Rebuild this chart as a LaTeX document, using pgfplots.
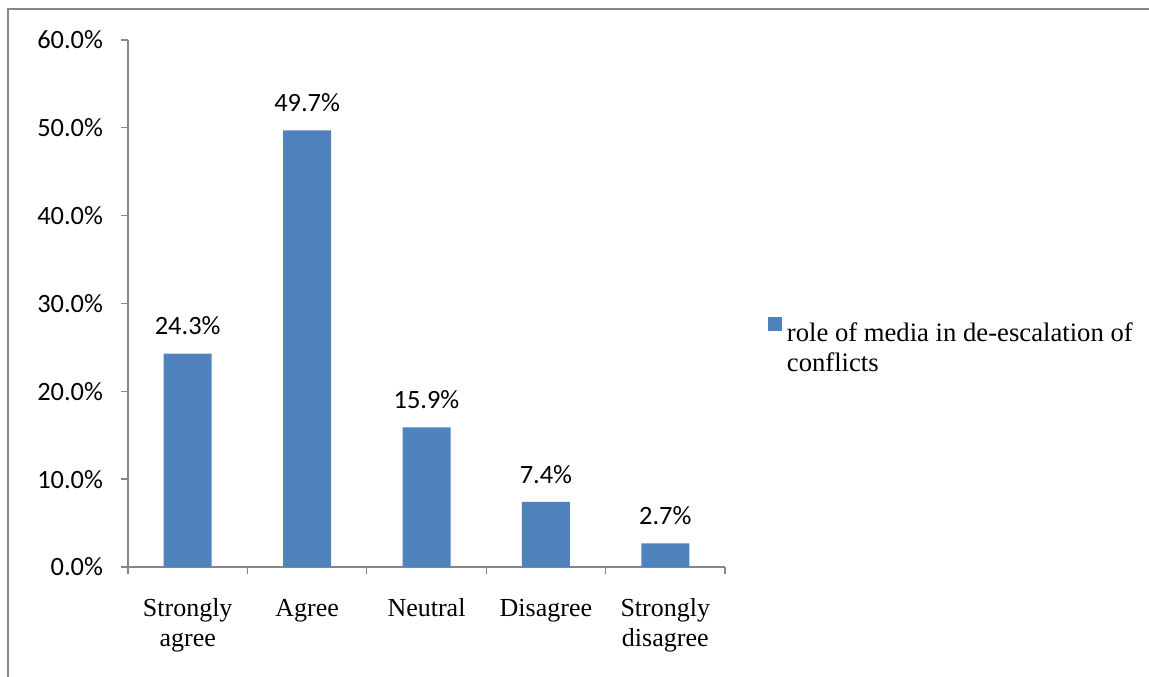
\documentclass[border=0pt]{standalone}
\usepackage{fontspec}
\setmainfont{Liberation Serif}
\newfontfamily\calibri{Carlito}
\usepackage{pgfplots}
\pgfplotsset{compat=1.18}
\definecolor{barblue}{RGB}{79,129,189}
\definecolor{axgray}{RGB}{134,134,134}
\begin{document}
\begin{tikzpicture}
\useasboundingbox (0,0) rectangle (861.75pt,507.75pt);
\draw[axgray, line width=1.2pt] (6pt,0pt) -- (6pt,501pt) -- (861.75pt,501pt);
\begin{axis}[
  at={(96pt,82.5pt)}, anchor=south west,
  scale only axis, width=447.75pt, height=395.25pt,
  xmin=0, xmax=5, ymin=0, ymax=60,
  axis x line*=bottom, axis y line*=left,
  axis line style={axgray, line width=1pt},
  tick align=outside,
  major tick length=5.25pt,
  tick style={axgray, line width=1pt},
  xtick={0,1,2,3,4,5},
  xticklabels={},
  extra x ticks={0.5,1.5,2.5,3.5,4.5},
  extra x tick labels={{\strut Strongly\\agree},{\strut Agree},{\strut Neutral},{\strut Disagree},{\strut Strongly\\disagree}},
  extra x tick style={major tick length=0pt, grid=none,
    tick label style={font=\fontsize{19.5}{22.5}\selectfont, align=center, anchor=north, yshift=-17.75pt}},
  ytick={0,10,20,30,40,50,60},
  yticklabel={\pgfmathprintnumber[fixed,fixed zerofill,precision=1]{\tick}\%},
  /pgf/number format/assume math mode=true,
  y tick label style={font=\calibri\fontsize{19.8}{22}\selectfont, xshift=-10pt},
  ybar, bar width=36pt,
  nodes near coords={\pgfmathprintnumber[fixed,fixed zerofill,precision=1]{\pgfplotspointmeta}\%},
  nodes near coords style={font=\calibri\fontsize{19.8}{22}\selectfont, anchor=south, yshift=10.5pt},
  legend style={draw=none, fill=none, at={(1.072,0.475)}, anchor=north west, inner sep=0pt,
    nodes={inner sep=1pt}, /tikz/every odd column/.append style={column sep=2.5pt}},
  legend image code/.code={\fill[barblue] (0pt,2pt) rectangle (10.5pt,12.5pt);},
]
\addplot[fill=barblue, draw=none] coordinates {(0.5,24.3) (1.5,49.7) (2.5,15.9) (3.5,7.4) (4.5,2.7)};
\addlegendentry{\parbox[t]{270pt}{\fontsize{20}{22.5}\selectfont role of media in de-escalation of\\conflicts}}
\end{axis}
\end{tikzpicture}
\end{document}
